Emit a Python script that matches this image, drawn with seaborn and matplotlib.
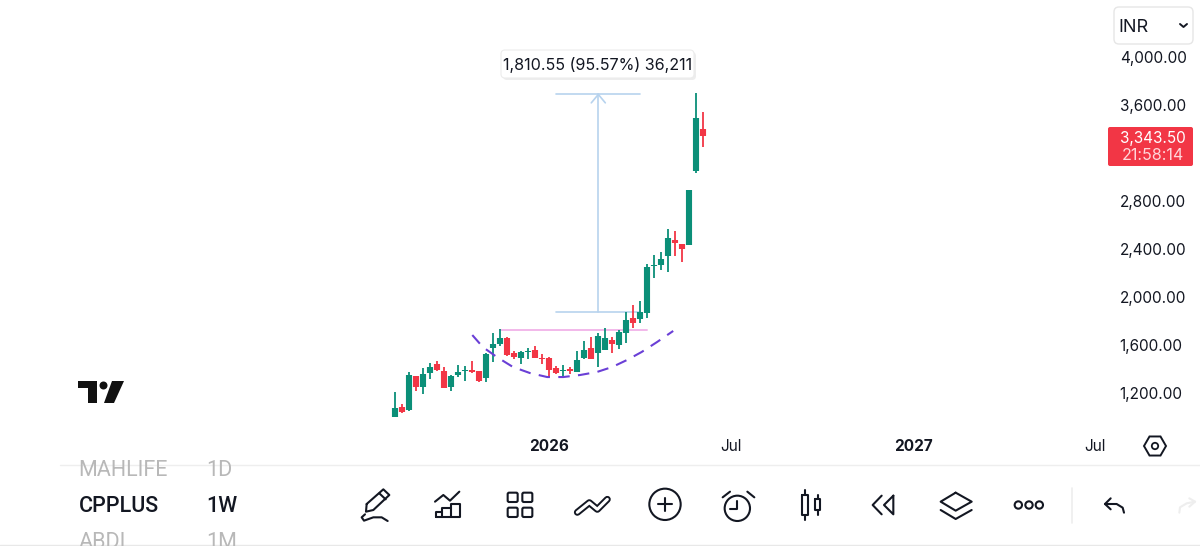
"""Recreate a TradingView mobile screenshot of the CPPLUS weekly chart."""
import matplotlib
matplotlib.use("Agg")
import matplotlib.pyplot as plt
import pandas as pd
import seaborn as sns
from matplotlib.patches import Circle, FancyBboxPatch, Polygon, Rectangle, RegularPolygon

# Weekly candles
opens = [1003, 1083, 1055, 1339, 1250, 1367, 1439, 1386, 1247, 1347, 1381, 1394, 1381, 1322, 1575,
         1605, 1658, 1531, 1489, 1542, 1558, 1494, 1492, 1406, 1381, 1397, 1378, 1489, 1575, 1536,
         1561, 1639, 1603, 1698, 1822, 1814, 1867, 2255, 2269, 2344, 2477, 2444, 2433, 3052, 3397]
closes = [1078, 1044, 1350, 1253, 1358, 1419, 1389, 1244, 1342, 1375, 1389, 1375, 1300, 1522, 1608,
          1656, 1519, 1497, 1544, 1550, 1492, 1483, 1389, 1369, 1389, 1384, 1475, 1559, 1486, 1678,
          1656, 1609, 1711, 1809, 1784, 1878, 2250, 2264, 2313, 2494, 2450, 2400, 2891, 3489, 3343.5]
highs = [1206, 1108, 1372, 1339, 1408, 1447, 1464, 1419, 1353, 1436, 1425, 1464, 1381, 1531, 1703,
         1731, 1669, 1550, 1550, 1572, 1589, 1522, 1497, 1425, 1436, 1417, 1550, 1634, 1670, 1698,
         1745, 1670, 1725, 1875, 1934, 1967, 2272, 2352, 2375, 2564, 2550, 2444, 2891, 3702, 3538]
lows = [1003, 1033, 1047, 1219, 1192, 1314, 1386, 1242, 1219, 1331, 1303, 1367, 1294, 1294, 1456,
        1594, 1511, 1481, 1442, 1486, 1489, 1442, 1331, 1358, 1331, 1359, 1375, 1486, 1484, 1420,
        1556, 1536, 1564, 1620, 1745, 1781, 1828, 2161, 2225, 2211, 2341, 2294, 2433, 3036, 3252]

price_ticks = [1200, 1600, 2000, 2400, 2800, 3600, 4000]
week_ticks = [22, 48, 74, 100]
week_labels = ["2026", "Jul", "2027", "Jul"]

# Drawing tools on the chart
arc_weeks = [11, 12.5, 14.5, 16.8, 19.2, 21.7, 24, 26.4, 28.8, 31, 33.1, 35.2, 37.4, 39.7]
arc_prices = [1683, 1583, 1500, 1417, 1367, 1333, 1333, 1350, 1375, 1417, 1475, 1542, 1625, 1717]
measure_weeks = [23, 35]
measure_prices = [1877, 3688]
level_weeks = [15, 36]
level_price = 1725

UP = "#0b8f78"
DOWN = "#f23645"
INK = "#131722"
FONT = "Inter"
W, H = 1200, 546


def draw_candles(ax):
    """Draw wicks and bodies as two unit-wise seaborn line layers."""
    rows_wick, rows_body = [], []
    for i, (o, c, h, l) in enumerate(zip(opens, closes, highs, lows)):
        side = "up" if c >= o else "down"
        rows_wick += [(i, l, side), (i, h, side)]
        rows_body += [(i, o, side), (i, c, side)]
    palette = {"up": UP, "down": DOWN}
    for rows, width in ((rows_wick, 1.3), (rows_body, 4.4)):
        df = pd.DataFrame(rows, columns=["week", "price", "side"])
        sns.lineplot(data=df, x="week", y="price", hue="side", units="week", estimator=None,
                     palette=palette, linewidth=width, legend=False, sort=False, ax=ax,
                     solid_capstyle="butt", zorder=3)


def draw_tools(ax):
    """Draw the measure arrow, resistance level and dashed cup arc."""
    blue = "#b7d3ee"
    mid = sum(measure_weeks) / 2
    for price in measure_prices:
        ax.plot(measure_weeks, [price, price], color=blue, lw=1.2, zorder=2)
    ax.plot([mid, mid], measure_prices, color=blue, lw=1.2, zorder=2)
    ax.plot([mid - 1, mid, mid + 1], [measure_prices[1] - 70, measure_prices[1], measure_prices[1] - 70],
            color=blue, lw=1.2, zorder=2)
    ax.plot(level_weeks, [level_price, level_price], color="#f2b8ea", lw=1.4, zorder=2)
    ax.plot(arc_weeks, arc_prices, color="#6a3fd6", lw=1.5, dashes=(5.5, 4), zorder=4)


def icon(ax, pts, x0, y0, closed=False, color=INK, lw=1.5):
    """Polyline given in 3x crop coordinates relative to a crop origin."""
    xs = [x0 + p[0] / 3 for p in pts]
    ys = [y0 + p[1] / 3 for p in pts]
    if closed:
        xs.append(xs[0])
        ys.append(ys[0])
    ax.plot(xs, ys, color=color, lw=lw, solid_capstyle="round", solid_joinstyle="round")


def draw_toolbar(ax):
    """Draw the bottom bar: watchlist rows and toolbar icons."""
    ax.plot([60, W], [464.5, 464.5], color="#eeeeee", lw=1)
    ax.plot([0, W], [545, 545], color="#e8e8e8", lw=1)
    # y axis is inverted here, so the clip box is built from its lower edge
    clip = Rectangle((60, 545), 300, -80, transform=ax.transData)
    rows = [("MAHLIFE", "1D", 470.5, "#b8b8b8", 400), ("CPPLUS", "1W", 506.5, INK, 500), ("ABDI", "1M", 542, "#b8b8b8", 400)]
    for name, res, y, col, weight in rows:
        for x, s in ((78.5, name), (206.5, res)):
            t = ax.text(x, y, s, color=col, fontsize=15.5, va="center", ha="left", family="Roboto", fontweight=weight)
            t.set_clip_path(clip)

    # crop origins for the icon shapes
    a, b = (340, 480), (840, 480)
    icon(ax, [(80, 72), (130, 28), (148, 45), (100, 90), (78, 95)], *a, closed=True)
    icon(ax, [(118, 40), (137, 58)], *a)
    icon(ax, [(75, 103), (65, 112), (72, 122), (100, 112), (125, 112), (143, 123)], *a)
    icon(ax, [(285, 65), (310, 45), (330, 62), (358, 35)], *a)
    icon(ax, [(287, 112), (287, 95), (307, 95), (307, 85), (332, 85), (332, 72), (360, 72), (360, 112)], *a, closed=True)
    icon(ax, [(307, 95), (307, 112)], *a)
    icon(ax, [(332, 85), (332, 112)], *a)
    for cx in (518, 562):
        for cy in (52, 97):
            ax.add_patch(FancyBboxPatch((340 + (cx - 15) / 3, 480 + (cy - 14) / 3), 10, 28 / 3,
                                        boxstyle="round,pad=0,rounding_size=1.5", fc="none", ec=INK, lw=1.5))
    icon(ax, [(712, 97), (748, 68), (772, 88), (802, 58)], *a, lw=5)
    icon(ax, [(712, 97), (748, 68), (772, 88), (802, 58)], *a, color="white", lw=2.2)
    ax.add_patch(Circle((340 + 975 / 3, 480 + 73 / 3), 47 / 3, fc="none", ec=INK, lw=1.5))
    icon(ax, [(955, 73), (995, 73)], *a)
    icon(ax, [(975, 53), (975, 93)], *a)
    ax.add_patch(Circle((340 + 1192 / 3, 480 + 85 / 3), 38 / 3, fc="none", ec=INK, lw=1.5))
    icon(ax, [(1192, 62), (1192, 88), (1170, 88)], *a)
    icon(ax, [(1148, 52), (1170, 35)], *a)
    icon(ax, [(1222, 35), (1243, 52)], *a)
    for cx, top, bot, wt, wb in ((1395, 45, 105, 30, 120), (1433, 58, 90, 45, 105)):
        icon(ax, [(cx - 8, top), (cx + 8, top), (cx + 8, bot), (cx - 8, bot)], *a, closed=True)
        icon(ax, [(cx, wt), (cx, top)], *a)
        icon(ax, [(cx, bot), (cx, wb)], *a)

    icon(ax, [(125, 47), (98, 75), (125, 103)], *b)
    icon(ax, [(160, 47), (132, 75), (160, 103)], *b, closed=True)
    icon(ax, [(347, 38), (395, 65), (347, 92), (302, 65)], *b, closed=True)
    icon(ax, [(302, 90), (347, 117), (395, 90)], *b)
    for cx in (535, 567, 598):
        ax.add_patch(Circle((840 + cx / 3, 480 + 75 / 3), 11 / 3, fc="none", ec=INK, lw=1.5))
    icon(ax, [(695, 25), (695, 128)], *b, color="#eeeeee", lw=1.2)
    icon(ax, [(812, 55), (795, 72), (812, 88)], *b)
    icon(ax, [(795, 72), (830, 72), (848, 83), (852, 98)], *b)
    icon(ax, [(1018, 98), (1020, 82), (1040, 70), (1065, 65)], *b, color="#eeeeee")
    icon(ax, [(1048, 55), (1065, 65), (1048, 80)], *b, color="#eeeeee")


def draw_overlay(ax):
    """Draw price tag, currency box, logo, measure label and settings icon."""
    # measure label
    ax.add_patch(FancyBboxPatch((503, 52), 193, 28, boxstyle="round,pad=0,rounding_size=4",
                                fc="#e6e6e6", ec="none", alpha=0.7))
    ax.add_patch(FancyBboxPatch((501, 50), 193, 28, boxstyle="round,pad=0,rounding_size=4",
                                fc="white", ec="#ececec", lw=0.8))
    ax.text(598, 65, "1,810.55 (95.57%) 36,211", ha="center", va="center", fontsize=11.6, color=INK, family=FONT)

    # last price tag
    ax.add_patch(FancyBboxPatch((1108, 127), 85, 39, boxstyle="round,pad=0,rounding_size=2", fc=DOWN, ec="none"))
    ax.text(1153, 138, "3,343.50", ha="center", va="center", fontsize=11, color="white", family=FONT)
    ax.text(1153, 156, "21:58:14", ha="center", va="center", fontsize=11.6, color="#ffd5d9", family=FONT)

    # currency box
    ax.add_patch(FancyBboxPatch((1114, 7), 79, 37, boxstyle="round,pad=0,rounding_size=5",
                                fc="white", ec="#e6e6e6", lw=1))
    ax.text(1118, 27.5, "INR", ha="left", va="center", fontsize=13, color=INK, family=FONT)
    ax.plot([1180, 1183.5, 1187], [24, 27, 24], color=INK, lw=1.4)

    # logo
    ax.add_patch(Polygon([(78, 381), (97, 381), (97, 403), (87.5, 403), (87.5, 388), (78, 388)], fc="#111111", ec="none"))
    ax.add_patch(Circle((103.5, 385.5), 4, fc="#111111", ec="none"))
    ax.add_patch(Polygon([(112, 381), (124, 381), (114, 403), (104, 403)], fc="#111111", ec="none"))

    # settings hexagon
    ax.add_patch(RegularPolygon((1155, 446), 6, radius=11, orientation=0.5236, fc="none", ec=INK, lw=1.4))
    ax.add_patch(Circle((1155, 446), 3.2, fc="none", ec=INK, lw=1.3))


def main() -> None:
    sns.set_theme(style="white")
    plt.rcParams["font.family"] = [FONT, "DejaVu Sans"]
    fig = plt.figure(figsize=(W / 100, H / 100), dpi=100, facecolor="white")

    # Price pane, 7 px per week and 48 px per 400 rupees
    ax = fig.add_axes([0, 1 - 432 / H, 1112 / W, 432 / H])
    draw_tools(ax)
    draw_candles(ax)
    ax.set_xlim(-395.3 / 7, (1112 - 395.3) / 7)
    ax.set_ylim(1200 - 39 * 400 / 48, 1200 + 393 * 400 / 48)
    ax.yaxis.tick_right()
    ax.set_yticks(price_ticks)
    ax.set_yticklabels([f"{p:,.2f}" for p in price_ticks], fontsize=11, color=INK)
    ax.set_xticks(week_ticks)
    ax.set_xticklabels(week_labels, fontsize=11, color=INK)
    ax.tick_params(axis="both", length=0)
    ax.tick_params(axis="y", pad=5.5)
    ax.tick_params(axis="x", pad=5)
    for label in ax.get_xticklabels():
        if label.get_text().startswith("20"):
            label.set_fontweight("bold")
    ax.set_xlabel("")
    ax.set_ylabel("")
    sns.despine(ax=ax, left=True, right=True, top=True, bottom=True)
    ax.patch.set_alpha(0)

    # Screen-space layer for the app chrome, in pixels
    ui = fig.add_axes([0, 0, 1, 1], zorder=5)
    ui.set_xlim(0, W)
    ui.set_ylim(H, 0)
    ui.axis("off")
    draw_overlay(ui)
    draw_toolbar(ui)

    fig.savefig("out.png", dpi=100, facecolor="white")


if __name__ == "__main__":
    main()
